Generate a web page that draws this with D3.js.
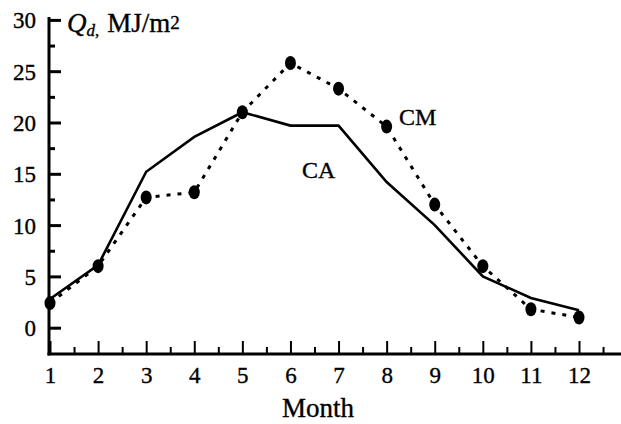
<!DOCTYPE html>
<html><head><meta charset="utf-8">
<script src="https://cdn.jsdelivr.net/npm/d3@7"></script>
<style>
body{margin:0;background:#fff;}
text{font-family:"Liberation Serif","Times New Roman",serif;fill:#000;stroke:#000;stroke-width:0.35;}
</style></head>
<body><svg id="c" width="621" height="424"></svg>
<script>
const months = [1,2,3,4,5,6,7,8,9,10,11,12];
const caValues = [2.8,6.1,15.2,18.6,21.0,19.7,19.7,14.2,10.0,5.0,2.9,1.7];
const cmValues = [2.4,6.0,12.7,13.2,21.0,25.8,23.3,19.6,12.0,6.0,1.8,1.0];
const yTicks = [0,5,10,15,20,25,30];
const xTickLabels = ["1","2","3","4","5","6","7","8","9","10","11","12"];

const svg = d3.select("#c");
const x = d3.scaleLinear().domain([1,12]).range([50,579]);
const y = d3.scaleLinear().domain([0,30]).range([327.7,19.9]);
const axisY0 = 354, axisX0 = 49;

// axis lines
svg.append("line").attr("x1",axisX0).attr("x2",axisX0).attr("y1",17).attr("y2",axisY0+1.5)
  .attr("stroke","#000").attr("stroke-width",3);
svg.append("line").attr("x1",axisX0-1.5).attr("x2",621).attr("y1",axisY0).attr("y2",axisY0)
  .attr("stroke","#000").attr("stroke-width",3);

// x axis ticks
const gx = svg.append("g").attr("transform",`translate(0,${axisY0})`)
  .call(d3.axisBottom(x).tickValues(months).tickSize(-13).tickPadding(22)
    .tickFormat((d,i)=>xTickLabels[i]));
gx.select(".domain").remove();
gx.selectAll(".tick line").attr("stroke-width",2);
gx.selectAll(".tick text").attr("font-size",23).attr("dy","0").attr("y",29);
const gxm = svg.append("g").attr("transform",`translate(0,${axisY0})`)
  .call(d3.axisBottom(x).tickValues(d3.range(1.5,13,1)).tickSize(-7).tickFormat(""));
gxm.select(".domain").remove();
gxm.selectAll(".tick line").attr("stroke-width",2);

// y axis ticks
const gy = svg.append("g").attr("transform",`translate(${axisX0},0)`)
  .call(d3.axisLeft(y).tickValues(yTicks).tickSize(-12).tickPadding(21));
gy.select(".domain").remove();
gy.selectAll(".tick line").attr("stroke-width",3);
gy.selectAll(".tick text").attr("font-size",23).attr("x",-13).attr("dy","0.35em");
const gym = svg.append("g").attr("transform",`translate(${axisX0},0)`)
  .call(d3.axisLeft(y).tickValues(d3.range(2.5,30,5)).tickSize(-6).tickFormat(""));
gym.select(".domain").remove();
gym.selectAll(".tick line").attr("stroke-width",3);

// lines
const line = d3.line().x((d,i)=>x(months[i])).y(d=>y(d));
svg.append("path").datum(caValues).attr("d",line).attr("fill","none")
  .attr("stroke","#000").attr("stroke-width",2.6).attr("stroke-linejoin","miter");
svg.append("path").datum(cmValues).attr("d",line).attr("fill","none")
  .attr("stroke","#000").attr("stroke-width",3).attr("stroke-dasharray","4,7");
svg.append("g").selectAll("ellipse").data(cmValues).join("ellipse")
  .attr("cx",(d,i)=>x(months[i])).attr("cy",d=>y(d)).attr("rx",5.5).attr("ry",7).attr("fill","#000");

// labels
svg.append("text").attr("x",302).attr("y",178).attr("font-size",24).text("CA");
svg.append("text").attr("x",399).attr("y",125).attr("font-size",24).text("CM");
svg.append("text").attr("x",318).attr("y",417).attr("text-anchor","middle").attr("font-size",27).text("Month");
const t = svg.append("text").attr("x",67).attr("y",32).attr("font-size",27);
t.append("tspan").attr("font-style","italic").text("Q");
t.append("tspan").attr("font-style","italic").attr("font-size",17).attr("dy",4).text("d");
t.append("tspan").attr("font-size",17).text(",");
t.append("tspan").attr("dy",-4).attr("dx",8).text("MJ/m");
t.append("tspan").attr("font-size",19).attr("dy",-3).text("2");
</script></body></html>
